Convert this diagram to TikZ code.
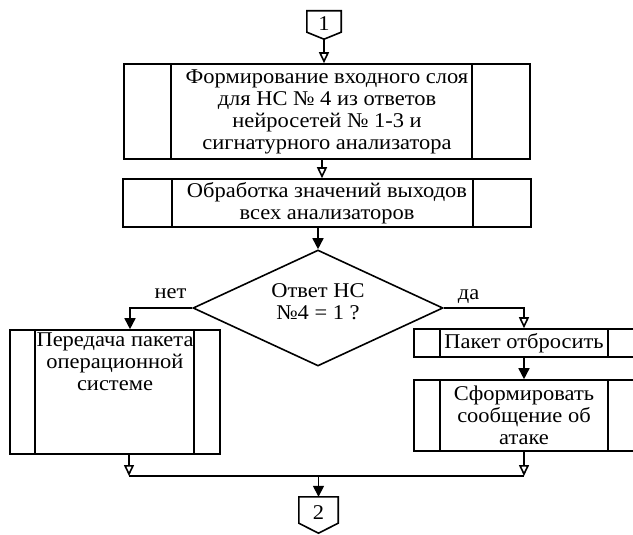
\documentclass[tikz,border=0pt]{standalone}
\usepackage{fontspec}
\setmainfont[FakeStretch=1.07]{Liberation Serif}
\usetikzlibrary{arrows.meta,shapes.geometric,calc}
\tikzset{
  lw/.style={line width=1.6pt},
  txt/.style={font=\fontsize{21}{22}\selectfont},
  procbox/.style 2 args={draw, lw, txt, inner sep=0pt, align=center,
    path picture={
      \draw[lw] ([xshift=#1]path picture bounding box.north west) -- ([xshift=#1]path picture bounding box.south west);
      \draw[lw] ([xshift=-#2]path picture bounding box.north east) -- ([xshift=-#2]path picture bounding box.south east);}},
  decision/.style={draw, lw, txt, shape=diamond, aspect=2.155, minimum width=250pt, minimum height=116pt, inner sep=0pt, align=center},
  connector/.style={txt, inner sep=0pt},
  branchlabel/.style={txt, inner sep=0pt},
  arr/.style={lw, -{Triangle[length=11pt,width=11pt]}},
  oarr/.style={lw, -{Triangle[open,length=11pt,width=10pt,fill=white]}},
}
\begin{document}
\begin{tikzpicture}[x=1pt,y=-1pt]
\clip (0,0) rectangle (633,535);
\fill[white] (0,0) rectangle (633,535);

% off-page connector 1
\node (c1) [connector, minimum width=34pt, minimum height=28pt] at (324,25) {\raisebox{3pt}{1}};
\draw[lw] (c1.north west) -- (c1.north east) -- ([yshift=7pt]c1.south east) -- (c1.south) -- ([yshift=7pt]c1.south west) -- cycle;

\node (b1) [procbox={47pt}{58pt}, minimum width=406pt, minimum height=95pt] at (327,111.5)
  {Формирование входного слоя\\для НС № 4 из ответов\\нейросетей № 1-3 и\\сигнатурного анализатора};
\node (b2) [procbox={49pt}{58pt}, minimum width=408pt, minimum height=48pt] at (327,203)
  {Обработка значений выходов\\всех анализаторов};
\node (d) [decision] at (318,308) {Ответ НС\\№4 = 1 ?\\[-10pt]};

\node (b3) [procbox={25pt}{26pt}, minimum width=210pt, minimum height=124pt] at (115,392)
  {\parbox[c][118pt][t]{180pt}{\centering Передача пакета\\операционной\\системе}};
\node (b4) [procbox={26pt}{26pt}, minimum width=220pt, minimum height=28pt] at (524,343)
  {Пакет отбросить};
\node (b5) [procbox={26pt}{26pt}, minimum width=220pt, minimum height=71pt] at (524,415.5)
  {Сформировать\\сообщение об\\атаке};

% off-page connector 2
\node (c2) [connector, minimum width=39pt, minimum height=36pt] at (318.5,515) {\raisebox{4pt}{2}};
\draw[lw] (c2.north west) -- (c2.north east) -- ([yshift=10pt]c2.south east) -- (c2.south) -- ([yshift=10pt]c2.south west) -- cycle;

\coordinate (j) at (318.5,476);

% connectors
\draw[oarr] (c1.south) -- (c1.south |- b1.north);
\draw[oarr] ([xshift=-5pt]b1.south) -- ([xshift=-5pt]b2.north);
\draw[arr] (d.north |- b2.south) -- (d.north);
\draw[arr] (d.west) -| ([xshift=15pt]b3.north) node[branchlabel, pos=0.175, above=8pt] {нет};
\draw[oarr] (d.east) -| (b4.north) node[branchlabel, pos=0.155, above=4pt] {да};
\draw[arr] (b4.south) -- (b5.north);
\draw[oarr] ([xshift=14pt]b3.south) -- ([xshift=14pt]b3.south |- j);
\draw[oarr] (b5.south) -- (b5.south |- j);
\draw[lw] ([xshift=14pt]b3.south |- j) -- (b5.south |- j);
\draw[arr] (j) -- (c2.north);
\end{tikzpicture}
\end{document}
